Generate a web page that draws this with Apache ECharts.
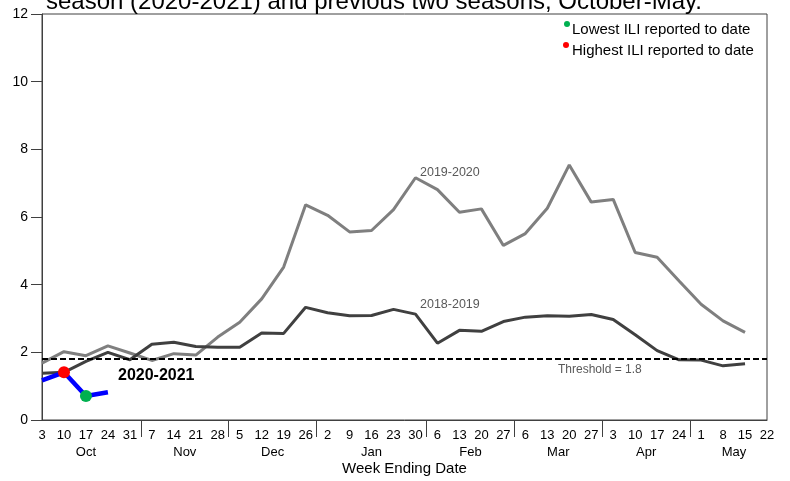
<!DOCTYPE html>
<html lang="en">
<head>
  <meta charset="UTF-8">
  <title>ILI by season</title>
  <script src="https://cdn.jsdelivr.net/npm/echarts@6/dist/echarts.min.js"></script>
  <style>
    html, body { margin: 0; padding: 0; background: #fff; }
    #chart { width: 790px; height: 481px; }
  </style>
</head>
<body>
  <div id="chart"></div>
  <script>
    // week ending day numbers, Oct -> May
    const weekLabels = ['3', '10', '17', '24', '31', '7', '14', '21', '28', '5', '12', '19', '26',
      '2', '9', '16', '23', '30', '6', '13', '20', '27', '6', '13', '20', '27',
      '3', '10', '17', '24', '1', '8', '15', '22'];
    const months = ['Oct', 'Nov', 'Dec', 'Jan', 'Feb', 'Mar', 'Apr', 'May'];
    const weeksPerMonth = [5, 4, 4, 5, 4, 4, 4, 4];

    const season1819 = [1.38, 1.41, 1.73, 2.00, 1.78, 2.24, 2.30, 2.17, 2.15, 2.15, 2.57, 2.56, 3.33,
      3.17, 3.08, 3.09, 3.27, 3.13, 2.27, 2.65, 2.62, 2.91, 3.04, 3.08, 3.07, 3.12,
      2.97, 2.52, 2.05, 1.78, 1.77, 1.60, 1.66];
    const season1920 = [1.68, 2.02, 1.90, 2.19, 1.98, 1.76, 1.96, 1.92, 2.45, 2.89, 3.58, 4.52, 6.36,
      6.05, 5.56, 5.60, 6.22, 7.16, 6.81, 6.14, 6.24, 5.16, 5.51, 6.26, 7.54, 6.44,
      6.52, 4.95, 4.81, 4.11, 3.42, 2.93, 2.59];
    const season2021 = [1.17, 1.41, 0.71, 0.82];
    const threshold = 1.8;

    const FONT = "'Liberation Sans', Arial, sans-serif";

    // half-week slots for the month row: label at the middle of each month, tick between months
    const slotCount = weekLabels.length * 2 - 1;
    const monthSlots = new Array(slotCount).fill('');
    const separators = new Set();
    let start = 0;
    months.forEach(function (m, i) {
      const n = weeksPerMonth[i];
      monthSlots[2 * start + (n - 1)] = m;
      if (i < months.length - 1) separators.add(2 * (start + n) - 1);
      start += n;
    });

    const hi = season2021.indexOf(Math.max.apply(null, season2021));
    const lo = season2021.indexOf(Math.min.apply(null, season2021));
    const currentData = season2021.map(function (v, i) {
      if (i === hi) return { value: v, symbol: 'circle', symbolSize: 12, itemStyle: { color: '#ff0000' } };
      if (i === lo) return { value: v, symbol: 'circle', symbolSize: 12, itemStyle: { color: '#00b050' } };
      return { value: v, symbol: 'none' };
    });

    const chart = echarts.init(document.getElementById('chart'));

    const option = {
      animation: false,
      backgroundColor: '#fff',
      textStyle: { fontFamily: FONT },
      grid: {
        left: 42, right: 23, top: 14, bottom: 59,
        show: true, borderColor: '#404040', borderWidth: 1
      },
      xAxis: [
        {
          type: 'category',
          data: weekLabels,
          boundaryGap: false,
          axisLine: { lineStyle: { color: '#404040', width: 1 } },
          axisTick: { show: false },
          axisLabel: { interval: 0, margin: 9, color: '#000', fontSize: 13, fontFamily: FONT },
          splitLine: { show: false },
          name: 'Week Ending Date',
          nameLocation: 'middle',
          nameGap: 41,
          nameTextStyle: { color: '#000', fontSize: 15, fontFamily: FONT }
        },
        {
          type: 'category',
          data: monthSlots,
          boundaryGap: false,
          position: 'bottom',
          axisLine: { show: false },
          axisTick: {
            show: true,
            length: 17,
            interval: function (idx) { return separators.has(idx); },
            lineStyle: { color: '#404040', width: 1 }
          },
          axisLabel: { interval: 0, margin: 26, color: '#000', fontSize: 13, fontFamily: FONT },
          splitLine: { show: false }
        }
      ],
      yAxis: {
        type: 'value',
        min: 0,
        max: 12,
        interval: 2,
        axisLine: { show: true, lineStyle: { color: '#404040', width: 1 } },
        axisTick: { show: true, length: 11, lineStyle: { color: '#404040' } },
        axisLabel: { margin: 14, color: '#000', fontSize: 14, fontFamily: FONT },
        splitLine: { show: false }
      },
      series: [
        {
          name: '2019-2020',
          type: 'line',
          data: season1920,
          symbol: 'none',
          lineStyle: { color: '#7f7f7f', width: 3 },
          z: 2
        },
        {
          name: '2018-2019',
          type: 'line',
          data: season1819,
          symbol: 'none',
          lineStyle: { color: '#404040', width: 3 },
          z: 3,
          markLine: {
            silent: true,
            symbol: ['none', 'none'],
            label: { show: false },
            lineStyle: { color: '#000', width: 2, type: [6, 3] },
            data: [{ yAxis: threshold }]
          }
        },
        {
          name: '2020-2021',
          type: 'line',
          data: currentData,
          showSymbol: true,
          lineStyle: { color: '#0000ff', width: 4.5 },
          itemStyle: { color: '#0000ff' },
          z: 5
        }
      ],
      graphic: [
        {
          type: 'text', x: 46, y: 2,
          style: {
            text: 'season (2020-2021) and previous two seasons, October-May.',
            font: '24px ' + FONT, fill: '#000', verticalAlign: 'middle'
          }
        },
        { type: 'circle', shape: { cx: 567, cy: 24, r: 3 }, style: { fill: '#00b050' } },
        {
          type: 'text', x: 572, y: 30,
          style: { text: 'Lowest ILI reported to date', font: '15px ' + FONT, fill: '#000', verticalAlign: 'middle' }
        },
        { type: 'circle', shape: { cx: 566, cy: 45, r: 3 }, style: { fill: '#ff0000' } },
        {
          type: 'text', x: 572, y: 51,
          style: { text: 'Highest ILI reported to date', font: '15px ' + FONT, fill: '#000', verticalAlign: 'middle' }
        },
        {
          type: 'text', x: 420, y: 173,
          style: { text: '2019-2020', font: '12.5px ' + FONT, fill: '#595959', verticalAlign: 'middle' }
        },
        {
          type: 'text', x: 420, y: 305,
          style: { text: '2018-2019', font: '12.5px ' + FONT, fill: '#595959', verticalAlign: 'middle' }
        },
        {
          type: 'text', x: 558, y: 370,
          style: { text: 'Threshold = ' + threshold, font: '12px ' + FONT, fill: '#595959', verticalAlign: 'middle' }
        },
        {
          type: 'text', x: 118, y: 376,
          style: { text: '2020-2021', font: 'bold 16px ' + FONT, fill: '#000', verticalAlign: 'middle' }
        }
      ]
    };

    chart.setOption(option);
  </script>
</body>
</html>
